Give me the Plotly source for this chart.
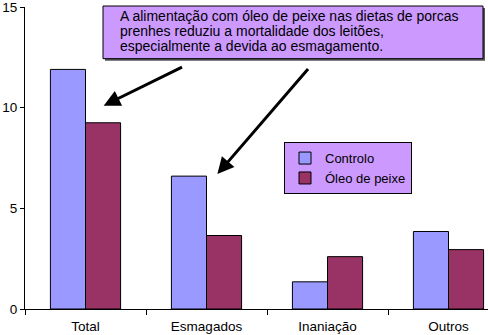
import plotly.graph_objects as go

categories = ["Total", "Esmagados", "Inaniação", "Outros"]
controlo = [11.9, 6.6, 1.35, 3.85]
oleo = [9.25, 3.65, 2.6, 2.95]
series_names = ["Controlo", "Óleo de peixe"]
note_lines = [
    "A alimentação com óleo de peixe nas dietas de porcas",
    "prenhes reduziu a mortalidade dos leitões,",
    "especialmente a devida ao esmagamento.",
]
y_ticks = [0, 5, 10, 15]

FONT = "Liberation Sans, Arial, sans-serif"
W, H = 488, 335
ML, MR, MT, MB = 25, 0, 5, 26
PW, PH = W - ML - MR, H - MT - MB


def px(x):
    return (x - ML) / PW


def py(y):
    return (H - MB - y) / PH


fig = go.Figure()
fig.add_trace(go.Bar(x=categories, y=controlo, name=series_names[0],
                     marker=dict(color="#9999FF", line=dict(color="black", width=1))))
fig.add_trace(go.Bar(x=categories, y=oleo, name=series_names[1],
                     marker=dict(color="#993366", line=dict(color="black", width=1))))

shapes = [
    dict(type="rect", xref="paper", yref="paper", x0=px(105), x1=px(485), y0=py(59), y1=py(6),
         fillcolor="#555555", line=dict(width=0), layer="above"),
    dict(type="rect", xref="paper", yref="paper", x0=px(103), x1=px(483), y0=py(57), y1=py(4),
         fillcolor="#CC99FF", line=dict(color="black", width=1), layer="above"),
]

annotations = []
for i, (line, yy) in enumerate(zip(note_lines, [14.5, 29.5, 44.5])):
    annotations.append(dict(xref="paper", yref="paper", x=px(118), y=py(yy), text=line,
                            showarrow=False, xanchor="left", yanchor="middle",
                            font=dict(family=FONT, size=14, color="black")))

# arrows (data coordinates)
annotations.append(dict(xref="x", yref="y", axref="x", ayref="y",
                        x=0.15, y=10.1, ax=0.81, ay=12.05, text="", showarrow=True,
                        arrowhead=2, arrowsize=1.1, arrowwidth=3, arrowcolor="black"))
annotations.append(dict(xref="x", yref="y", axref="x", ayref="y",
                        x=1.09, y=6.7, ax=1.85, ay=12.0, text="", showarrow=True,
                        arrowhead=2, arrowsize=1.1, arrowwidth=3, arrowcolor="black"))

fig.update_layout(
    width=W, height=H,
    margin=dict(l=ML, r=MR, t=MT, b=MB),
    paper_bgcolor="white", plot_bgcolor="white",
    barmode="group", bargap=0.42, bargroupgap=0,
    font=dict(family=FONT, size=13, color="black"),
    showlegend=True,
    legend=dict(x=px(284), y=py(141), xanchor="left", yanchor="top",
                bgcolor="#CC99FF", bordercolor="black", borderwidth=1,
                font=dict(family=FONT, size=13, color="black"),
                itemwidth=30, tracegroupgap=0),
    xaxis=dict(type="category", range=[-0.5, -0.5 + PW / 121.0],
               showline=True, linecolor="black", linewidth=1,
               ticks="outside", ticklen=5, tickcolor="black", tickson="boundaries",
               ticklabelstandoff=5,
               showgrid=False, zeroline=False,
               tickfont=dict(family=FONT, size=13.5, color="black")),
    yaxis=dict(range=[0, 15], tickvals=y_ticks, showline=True, linecolor="black", linewidth=1,
               ticks="outside", ticklen=4, tickcolor="black", showgrid=False, zeroline=False,
               ticklabeloverflow="allow",
               tickfont=dict(family=FONT, size=13.5, color="black")),
    shapes=shapes,
    annotations=annotations,
)

fig.write_html("out.html")
